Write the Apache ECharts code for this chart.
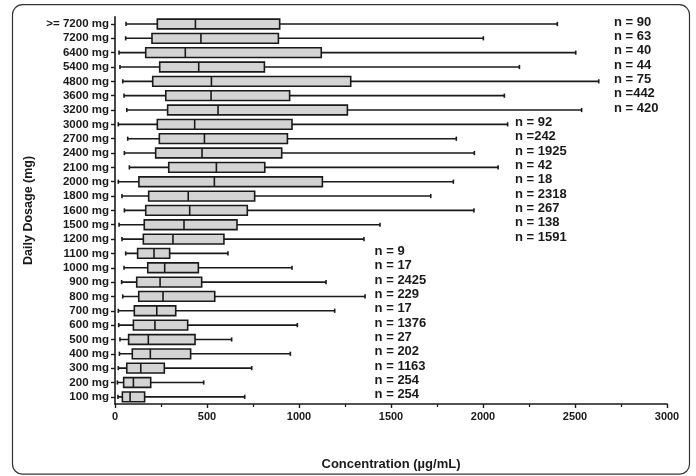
<!DOCTYPE html>
<html>
<head>
<meta charset="utf-8">
<script src="https://cdn.jsdelivr.net/npm/echarts@6/dist/echarts.min.js"></script>
<style>
html,body{margin:0;padding:0;background:#fff;}
#c{width:696px;height:476px;}
</style>
</head>
<body>
<div id="c"></div>
<script>
// Categories, top to bottom
const categories = ['>= 7200 mg','7200 mg','6400 mg','5400 mg','4800 mg','3600 mg','3200 mg','3000 mg','2700 mg','2400 mg','2100 mg','2000 mg','1800 mg','1600 mg','1500 mg','1200 mg','1100 mg','1000 mg','900 mg','800 mg','700 mg','600 mg','500 mg','400 mg','300 mg','200 mg','100 mg'];
const lows    = [60, 58, 22, 27, 42, 49, 64, 18, 69, 51, 78, 18, 38, 51, 22, 38, 58, 49, 36, 42, 18, 20, 27, 24, 18, 13, 16];
const q1s     = [230, 201, 167, 243, 205, 276, 286, 230, 241, 221, 292, 130, 183, 167, 159, 154, 123, 178, 118, 129, 105, 100, 74, 94, 64, 47, 40];
const medians = [437, 467, 382, 455, 524, 522, 560, 433, 486, 473, 551, 540, 398, 406, 375, 315, 212, 270, 245, 261, 227, 217, 181, 192, 140, 100, 82];
const q3s     = [895, 888, 1121, 812, 1281, 949, 1263, 962, 937, 906, 814, 1127, 759, 719, 663, 592, 297, 453, 471, 542, 330, 395, 435, 411, 268, 194, 161];
const highs   = [2404, 2002, 2504, 2198, 2629, 2116, 2536, 2134, 1855, 1953, 2082, 1839, 1716, 1951, 1440, 1353, 614, 962, 1147, 1359, 1194, 991, 634, 953, 743, 482, 705];
const nLabels = ['n = 90','n = 63','n = 40','n = 44','n = 75','n =442','n = 420','n = 92','n =242','n = 1925','n = 42','n = 18','n = 2318','n = 267','n = 138','n = 1591','n = 9','n = 17','n = 2425','n = 229','n = 17','n = 1376','n = 27','n = 202','n = 1163','n = 254','n = 254'];
const xTicks = [0, 500, 1000, 1500, 2000, 2500, 3000];

const boxData = categories.map((c, i) => [i, lows[i], q1s[i], medians[i], q3s[i], highs[i]]);
// label column (in data units) per group of rows
function labelX(i) { return i <= 6 ? 2712 : (i <= 15 ? 2174 : 1411); }
const labelData = categories.map((c, i) => ({ value: [labelX(i), i], name: nLabels[i] }));

const FONT = '"Liberation Sans", Arial, sans-serif';
const INK = '#1a1a1a';

function renderItem(params, api) {
  const cat = api.value(0);
  const pLow = api.coord([api.value(1), cat]);
  const pQ1 = api.coord([api.value(2), cat]);
  const pMed = api.coord([api.value(3), cat]);
  const pQ3 = api.coord([api.value(4), cat]);
  const pHigh = api.coord([api.value(5), cat]);
  const band = api.size([0, 1])[1];
  const bh = band * 0.68;
  const cap = 2.1;
  const y = pMed[1];
  const st = { stroke: INK, lineWidth: 1.6 };
  return {
    type: 'group',
    children: [
      { type: 'line', shape: { x1: pLow[0], y1: y, x2: pHigh[0], y2: y }, style: st },
      { type: 'line', shape: { x1: pLow[0], y1: y - cap, x2: pLow[0], y2: y + cap }, style: st },
      { type: 'line', shape: { x1: pHigh[0], y1: y - cap, x2: pHigh[0], y2: y + cap }, style: st },
      { type: 'rect', shape: { x: pQ1[0], y: y - bh / 2, width: pQ3[0] - pQ1[0], height: bh },
        style: { fill: '#d4d4d4', stroke: INK, lineWidth: 1.6 } },
      { type: 'line', shape: { x1: pMed[0], y1: y - bh / 2, x2: pMed[0], y2: y + bh / 2 }, style: st }
    ]
  };
}

const chart = echarts.init(document.getElementById('c'), null, { renderer: 'canvas' });
chart.setOption({
  backgroundColor: '#fff',
  animation: false,
  graphic: [{
    type: 'rect', shape: { x: 12.5, y: 4.7, width: 677, height: 469.5, r: 10 },
    style: { fill: 'none', stroke: '#333', lineWidth: 1.2 }, z: -1
  }],
  grid: { left: 115, right: 29, top: 16.8, bottom: 70.5 },
  xAxis: {
    type: 'value', min: 0, max: 3000, interval: 500,
    name: 'Concentration (µg/mL)', nameLocation: 'middle', nameGap: 54,
    nameTextStyle: { fontFamily: FONT, fontWeight: 'bold', fontSize: 13, color: INK },
    axisLine: { show: true, lineStyle: { color: INK, width: 1.6 } },
    axisTick: { show: true, length: 4, lineStyle: { color: INK, width: 1.4 } },
    minorTick: { show: true, splitNumber: 2, length: 3, lineStyle: { color: INK, width: 1.2 } },
    axisLabel: { fontFamily: FONT, fontWeight: 'bold', fontSize: 11, color: INK, margin: 7,
      formatter: v => (xTicks.indexOf(v) >= 0 ? String(v) : '') },
    splitLine: { show: false }
  },
  yAxis: {
    type: 'category', inverse: true, data: categories,
    name: 'Daily Dosage (mg)', nameLocation: 'middle', nameGap: 76, nameRotate: 90,
    nameTextStyle: { fontFamily: FONT, fontWeight: 'bold', fontSize: 12.5, color: INK },
    axisLine: { show: true, lineStyle: { color: INK, width: 1.6 } },
    axisTick: { show: true, alignWithLabel: true, length: 4, lineStyle: { color: INK, width: 1.4 } },
    axisLabel: { fontFamily: FONT, fontWeight: 'bold', fontSize: 11.5, color: INK, margin: 6, interval: 0 },
    splitLine: { show: false }
  },
  series: [
    {
      type: 'custom', renderItem: renderItem, data: boxData,
      encode: { x: [1, 2, 3, 4, 5], y: 0 }, z: 2
    },
    {
      type: 'scatter', data: labelData, symbolSize: 0, silent: true,
      itemStyle: { opacity: 1, color: INK },
      label: { show: true, position: 'right', distance: 0, offset: [0, -2],
        formatter: p => p.name, fontFamily: FONT, fontWeight: 'bold', fontSize: 13, color: INK, opacity: 1 }
    }
  ]
});
</script>
</body>
</html>
